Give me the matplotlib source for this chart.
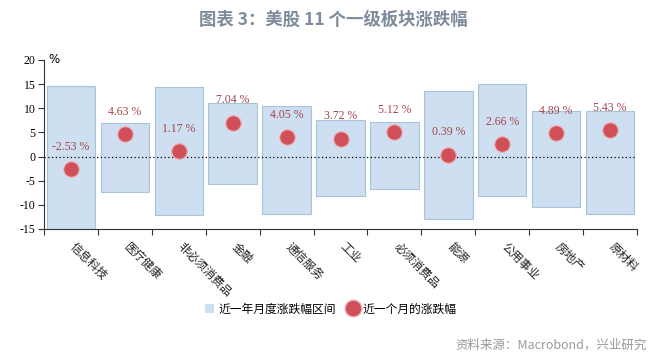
import matplotlib
matplotlib.use("Agg")
import matplotlib.pyplot as plt
import matplotlib.transforms as mtransforms
from matplotlib.lines import Line2D
from matplotlib.patches import Patch
import numpy as np

plt.rcParams['font.family'] = ['Noto Sans CJK SC', 'DejaVu Sans']

# sectors and values
sectors = ['信息科技', '医疗健康', '非必须消费品', '金融', '通信服务', '工业',
           '必须消费品', '能源', '公用事业', '房地产', '原材料']
range_high = [14.7, 6.9, 14.4, 11.0, 10.5, 7.5, 7.1, 13.5, 15.1, 9.5, 9.4]
range_low = [-16.0, -7.4, -12.2, -5.7, -11.9, -8.2, -6.7, -13.0, -8.1, -10.4, -11.8]
last_month = [-2.53, 4.63, 1.17, 7.04, 4.05, 3.72, 5.12, 0.39, 2.66, 4.89, 5.43]
yticks = [20, 15, 10, 5, 0, -5, -10, -15]

BAR_FACE = '#cddff0'
BAR_EDGE = '#a8c3da'
DOT = '#d0505a'
LABEL = '#a4454d'
TITLE = '#7d8b9b'

fig = plt.figure(figsize=(6.61, 3.61), dpi=100)
ax = fig.add_axes([0.0666, 0.3657, 0.8971, 0.4681])

x = np.arange(len(sectors))
hi = np.array(range_high)
lo = np.array(range_low)
ax.bar(x, hi - lo, bottom=lo, width=0.9, color=BAR_FACE, edgecolor=BAR_EDGE,
       linewidth=0.8, zorder=1)
ax.axhline(0, color='black', linestyle=(0, (1, 2)), linewidth=0.9, zorder=2)
ax.scatter(x, last_month, s=125, color=DOT, edgecolor='#f0b0b4', linewidth=0.8,
           zorder=3)
for xi, v in zip(x, last_month):
    ax.text(xi, v + 4.6, f'{v:.2f} %', ha='center', va='center', color=LABEL,
            fontsize=8.5, family='Liberation Serif', zorder=4)

ax.set_xlim(-0.5, len(sectors) - 0.5)
ax.set_ylim(-15, 20)
ax.set_yticks(yticks)
ax.set_yticklabels([str(t) for t in yticks], family='Liberation Serif', fontsize=8.5)
ax.set_xticks(np.arange(len(sectors) + 1) - 0.5)
ax.set_xticklabels([])
ax.tick_params(axis='both', which='major', direction='out', length=4,
               width=0.8, color='#333333')
ax.tick_params(axis='y', pad=2)

# slanted category labels, starting just right of each category centre
offset = mtransforms.ScaledTranslation(4 / 72, -8 / 72, fig.dpi_scale_trans)
for xi, name in zip(x, sectors):
    ax.text(xi, 0, name, transform=ax.get_xaxis_transform() + offset,
            rotation=-45, ha='left', va='top', rotation_mode='anchor',
            fontsize=8.5, color='#222222', clip_on=False)

for s in ['top', 'right']:
    ax.spines[s].set_visible(False)
for s in ['left', 'bottom']:
    ax.spines[s].set_color('#333333')
    ax.spines[s].set_linewidth(0.8)

ax.text(0.008, 1.0, '%', transform=ax.transAxes, ha='left', va='center',
        fontsize=8.5, family='DejaVu Sans')

handles = [Patch(facecolor=BAR_FACE, edgecolor='none'),
           Line2D([], [], marker='o', linestyle='none', markersize=12,
                  markerfacecolor=DOT, markeredgecolor='#f0b0b4')]
fig.legend(handles, ['近一年月度涨跌幅区间', '近一个月的涨跌幅'],
           loc='center', bbox_to_anchor=(0.5, 0.144), ncol=2, frameon=False,
           fontsize=8.5, handlelength=0.8, handletextpad=0.4, columnspacing=1.0)

fig.text(0.505, 0.945, '图表 3：美股 11 个一级板块涨跌幅', ha='center', va='center',
         fontsize=12.5, fontweight='bold', color=TITLE)
fig.text(0.978, 0.045, '资料来源：Macrobond，兴业研究', ha='right', va='center',
         fontsize=9, color='#999999')

fig.savefig('out.png', dpi=100)
